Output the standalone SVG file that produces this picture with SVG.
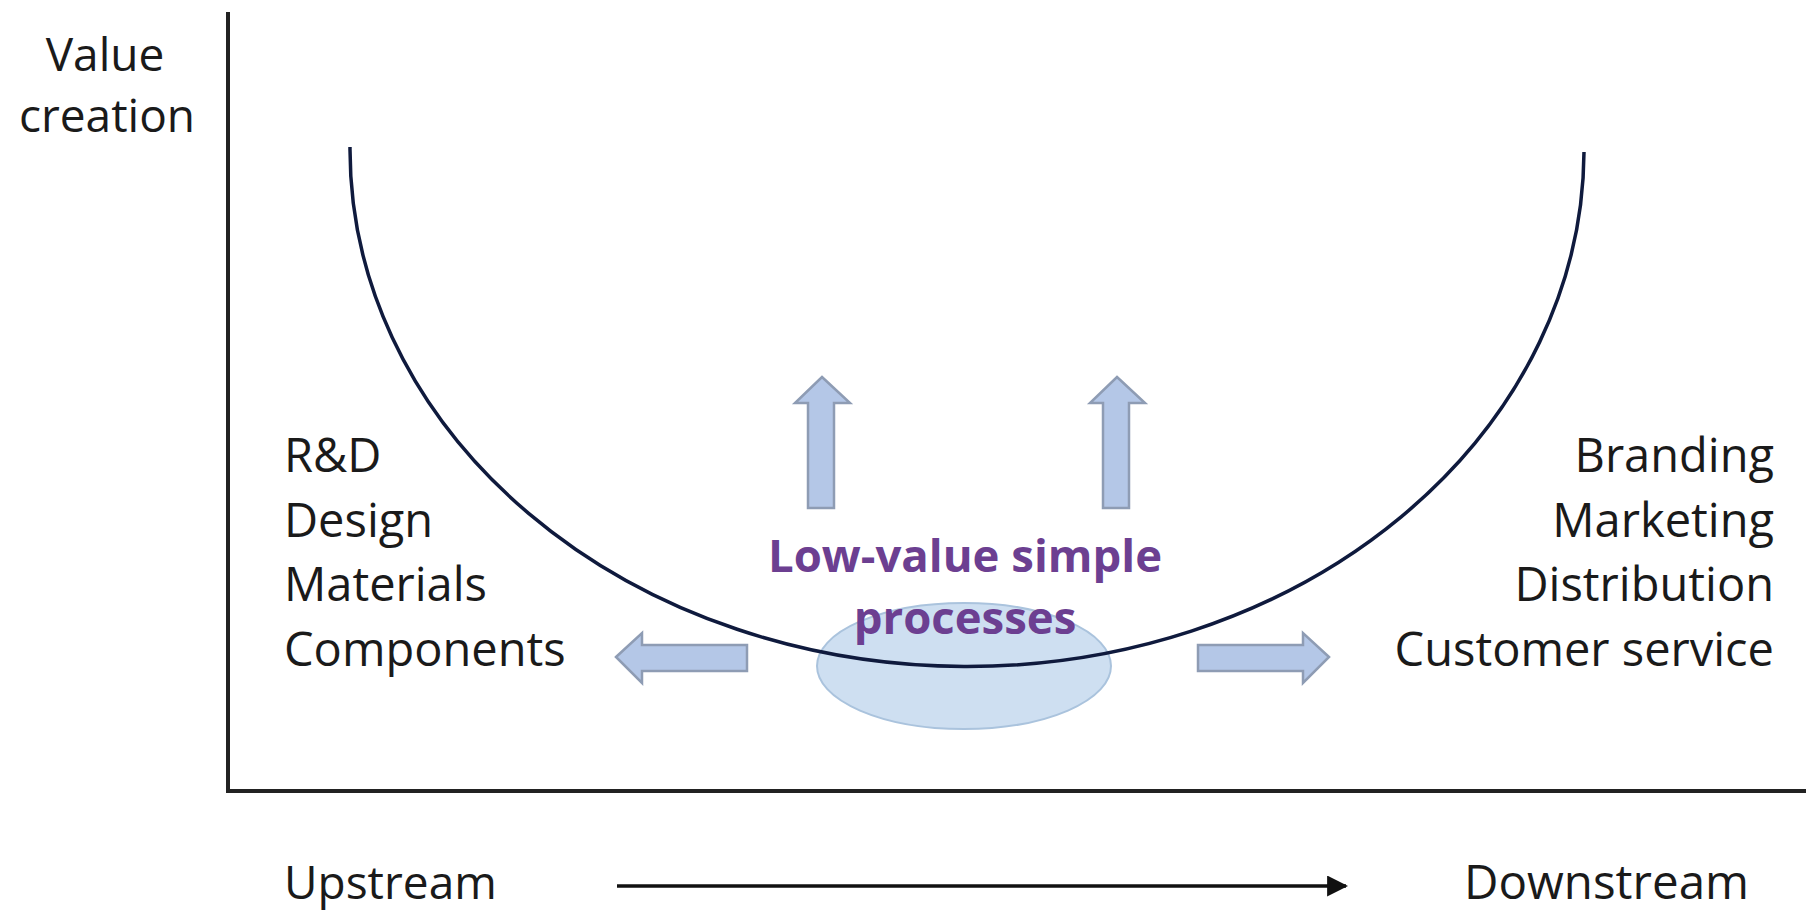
<svg xmlns="http://www.w3.org/2000/svg" width="1806" height="911" viewBox="0 0 1806 911">
<defs>
<style>
.lbl{font-family:"Open Sans","Noto Sans",sans-serif;font-size:47px;fill:#1a1a1a}
.ax{font-family:"Open Sans","Noto Sans",sans-serif;font-size:46px;fill:#1a1a1a}
.mid{font-family:"Open Sans","Noto Sans",sans-serif;font-size:45.5px;font-weight:bold;fill:#6c3f91}
.barrow{fill:#b4c7e7;stroke:#8e9cb4;stroke-width:2.5;stroke-linejoin:miter}
.axis{stroke:#222;stroke-width:4;fill:none}
</style>
<marker id="ah" viewBox="0 0 10 10" refX="9" refY="5" markerWidth="6" markerHeight="6" orient="auto" markerUnits="strokeWidth">
<path d="M0,0 L10,5 L0,10 z" fill="#111"/>
</marker>
</defs>
<rect width="1806" height="911" fill="#ffffff"/>
<g id="axes">
<path class="axis" d="M228 12 L228 791 L1806 791"/>
</g>
<g id="y-label">
<text class="ax" x="105" y="71" text-anchor="middle">Value</text>
<text class="ax" x="107" y="132" text-anchor="middle">creation</text>
</g>
<g id="low-value">
<ellipse cx="964" cy="666" rx="147" ry="63" fill="#c9dbef" stroke="#aac3dd" stroke-width="2" fill-opacity="0.9"/>
</g>
<g id="connectors">
<path id="smile" d="M350 147 A617 517 0 0 0 1584 152" fill="none" stroke="#0f1a3d" stroke-width="3.5"/>
<path id="updown" d="M617 886 L1346 886" stroke="#111" stroke-width="3.5" fill="none" marker-end="url(#ah)"/>
<path class="barrow" d="M822 377 L850 403 L834 403 L834 508 L808 508 L808 403 L795 403 Z"/>
<path class="barrow" d="M1117 377 L1145 403 L1129 403 L1129 508 L1103 508 L1103 403 L1090 403 Z"/>
<path class="barrow" d="M616 657 L642 633 L642 645 L747 645 L747 671 L642 671 L642 683 Z"/>
<path class="barrow" d="M1329 657 L1303 633 L1303 645 L1198 645 L1198 671 L1303 671 L1303 683 Z"/>
</g>
<g id="low-value-text">
<text class="mid" x="965" y="572" text-anchor="middle">Low-value simple</text>
<text class="mid" x="965" y="634" text-anchor="middle">processes</text>
</g>
<g id="upstream-activities">
<text class="lbl" x="284" y="472">R&amp;D</text>
<text class="lbl" x="284" y="537">Design</text>
<text class="lbl" x="284" y="601">Materials</text>
<text class="lbl" x="284" y="666">Components</text>
</g>
<g id="downstream-activities">
<text class="lbl" x="1774" y="472" text-anchor="end">Branding</text>
<text class="lbl" x="1774" y="537" text-anchor="end">Marketing</text>
<text class="lbl" x="1774" y="601" text-anchor="end">Distribution</text>
<text class="lbl" x="1774" y="666" text-anchor="end">Customer service</text>
</g>
<g id="x-labels">
<text class="ax" x="284" y="899">Upstream</text>
<text class="ax" x="1749" y="899" text-anchor="end" style="font-size:47.5px">Downstream</text>
</g>
</svg>
